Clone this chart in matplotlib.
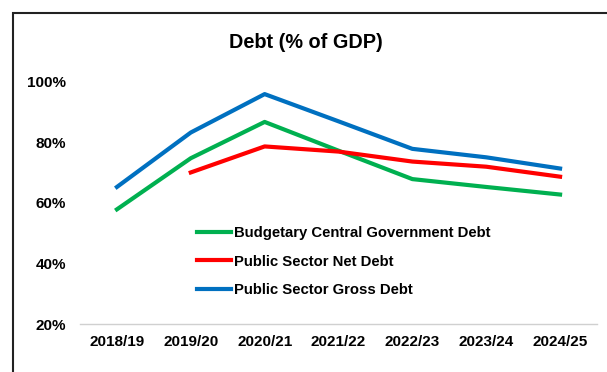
import matplotlib.pyplot as plt
from matplotlib.patches import Rectangle
from matplotlib.ticker import FuncFormatter
import numpy as np

plt.rcParams['font.family'] = ['Liberation Sans', 'DejaVu Sans']
plt.rcParams['font.weight'] = 'bold'

years = ["2018/19", "2019/20", "2020/21", "2021/22", "2022/23", "2023/24", "2024/25"]
central_gov = [57.9, 74.8, 86.8, 77.3, 67.9, 65.3, 62.8]
net_debt = [np.nan, 70.1, 78.7, 77.0, 73.7, 72.0, 68.7]
gross_debt = [65.3, 83.3, 96.0, 87.0, 77.9, 75.1, 71.4]

fig = plt.figure(figsize=(6.07, 3.72), dpi=100)
ax = fig.add_axes([80/607, 1-324/372, 517/607, 242/372])

# рамка вокруг графика (обрезана справа и снизу)
fig.patches.append(Rectangle((13/607, -0.1), 1.2, 1 - 13/372 + 0.1,
                             transform=fig.transFigure, fill=False,
                             edgecolor='#222222', linewidth=1.5))

x = np.arange(len(years))
ax.plot(x, central_gov, color='#00B050', lw=3, label='Budgetary Central Government Debt')
ax.plot(x, net_debt, color='#FF0000', lw=3, label='Public Sector Net Debt')
ax.plot(x, gross_debt, color='#0070C0', lw=3, label='Public Sector Gross Debt')

ax.set_xlim(-0.5, 6.5)
ax.set_ylim(20, 100)
ax.set_yticks([20, 40, 60, 80, 100])
ax.yaxis.set_major_formatter(FuncFormatter(lambda v, p: f"{v:.0f}%"))
ax.set_xticks(x)
ax.set_xticklabels(years)
ax.tick_params(axis='both', length=0, labelsize=11)
ax.tick_params(axis='y', pad=10)
ax.tick_params(axis='x', pad=8)

for s in ['top', 'right', 'left']:
    ax.spines[s].set_visible(False)
ax.spines['bottom'].set_color('#d0d0d0')
ax.spines['bottom'].set_linewidth(1)

fig.text(306/607, 1-43/372, "Debt (% of GDP)", ha='center', va='center',
         fontsize=14.3, fontweight='bold')

fig.legend(loc='upper left', bbox_to_anchor=(197/607, 1-226/372),
           frameon=False, fontsize=10.75, handlelength=2.3, handletextpad=0.18,
           labelspacing=0.98, borderpad=0, borderaxespad=0)

fig.savefig('out.png', dpi=100)
